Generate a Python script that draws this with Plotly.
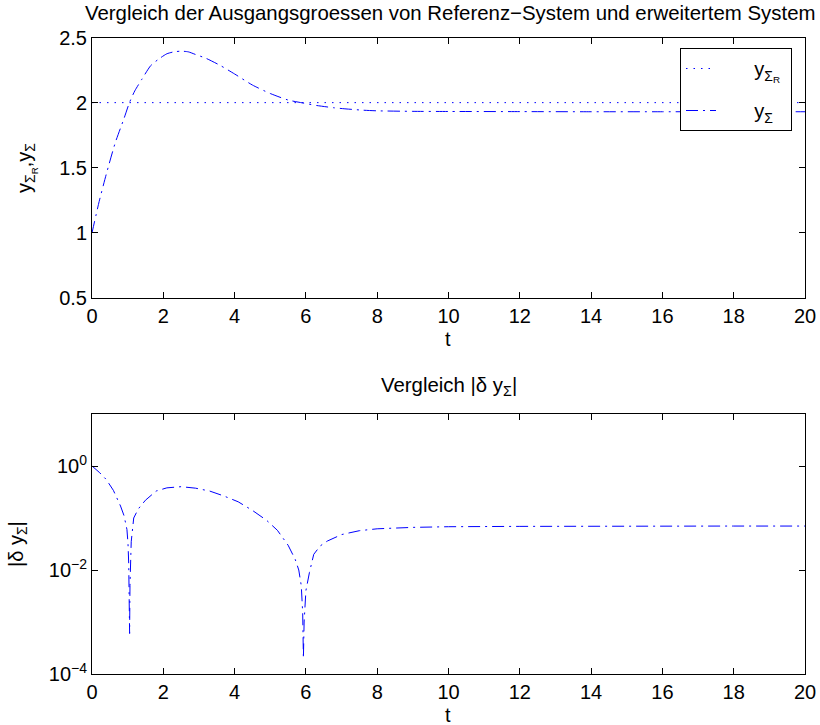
import plotly.graph_objects as go

# ---- data ----
t_ref = [0, 20]
y_ref = [2.0, 2.0]

t_sys = [0, 0.2, 0.4, 0.65, 0.9, 1.05, 1.2, 1.4, 1.65, 1.9, 2.1, 2.3, 2.5, 2.7, 2.9,
         3.2, 3.6, 4.0, 4.5, 5.0, 5.5, 5.9, 6.3, 6.8, 7.2, 7.6, 8.0, 9.0, 10, 12, 14, 16, 18, 20]
y_sys = [1.0, 1.24, 1.45, 1.69, 1.88, 2.00, 2.09, 2.18, 2.285, 2.34, 2.375, 2.39, 2.395, 2.39, 2.37,
         2.34, 2.285, 2.22, 2.135, 2.07, 2.02, 1.998, 1.978, 1.96, 1.95, 1.942, 1.937, 1.933, 1.932,
         1.931, 1.93, 1.93, 1.93, 1.93]

t_d = [0, 0.2, 0.4, 0.6, 0.8, 0.9, 0.98, 1.01, 1.03, 1.045, 1.055, 1.065, 1.08, 1.1, 1.17, 1.3,
       1.5, 1.8, 2.1, 2.5, 2.9, 3.3, 3.7, 4.1, 4.5, 4.9, 5.2, 5.5, 5.7, 5.8, 5.87, 5.91, 5.93, 5.95,
       6.0, 6.1, 6.22, 6.4, 6.6, 7.0, 7.5, 8.0, 9.0, 10, 12, 14, 16, 18, 20]
d_y = [1.0, 0.76, 0.55, 0.34, 0.17, 0.11, 0.06, 0.032, 0.013, 0.004, 0.0006, 0.005, 0.017, 0.035,
       0.1, 0.15, 0.22, 0.33, 0.38, 0.40, 0.375, 0.33, 0.265, 0.205, 0.14, 0.09, 0.058, 0.03, 0.016,
       0.01, 0.005, 0.0015, 0.0002, 0.001, 0.004, 0.009, 0.02, 0.029, 0.036, 0.048, 0.057, 0.062,
       0.066, 0.068, 0.069, 0.07, 0.07, 0.07, 0.07]

x_ticks = list(range(0, 21, 2))
y1_ticks = [0.5, 1, 1.5, 2, 2.5]
y1_ticktext = ["0.5", "1", "1.5", "2", "2.5"]
y2_ticks = [1e-4, 1e-2, 1]
y2_ticktext = ["10<sup>−4</sup>", "10<sup>−2</sup>", "10<sup>0</sup>"]

FONT = "Liberation Sans, Arial, Helvetica, sans-serif"
FS = 20
BLUE = "#0000ff"
W, H = 820, 725
PAD = "\u00a0" * 6

fig = go.Figure()
fig.add_trace(go.Scatter(x=t_ref, y=y_ref, mode="lines", name=PAD + "y<sub>Σ<sub>R</sub></sub>\u00a0",
                         line=dict(color=BLUE, width=1, dash="1.5px,6px"),
                         xaxis="x", yaxis="y", legendgroup="a"))
fig.add_trace(go.Scatter(x=t_sys, y=y_sys, mode="lines", name=PAD + "y<sub>Σ</sub>",
                         line=dict(color=BLUE, width=1, dash="12px,5px,2px,5px", shape="spline", smoothing=0.6),
                         xaxis="x", yaxis="y", legendgroup="b"))
fig.add_trace(go.Scatter(x=t_d, y=d_y, mode="lines", showlegend=False,
                         line=dict(color=BLUE, width=1, dash="12px,5px,2px,5px"),
                         xaxis="x2", yaxis="y2"))

xd = [92 / W, 805 / W]
axis_common = dict(showline=True, linecolor="black", linewidth=1, mirror="ticks",
                   ticks="inside", ticklen=6, tickcolor="black", showgrid=False, zeroline=False,
                   automargin=False,
                   tickfont=dict(family=FONT, size=FS, color="black"))

fig.update_layout(
    width=W, height=H, margin=dict(l=0, r=0, t=0, b=0, autoexpand=False),
    paper_bgcolor="white", plot_bgcolor="white",
    font=dict(family=FONT, size=FS, color="black"),
    xaxis=dict(domain=xd, range=[0, 20], tickvals=x_ticks, anchor="y", **axis_common),
    yaxis=dict(domain=[(H - 298) / H, (H - 37.5) / H], range=[0.5, 2.5], tickvals=y1_ticks,
               ticktext=y1_ticktext, anchor="x", **axis_common),
    xaxis2=dict(domain=xd, range=[0, 20], tickvals=x_ticks, anchor="y2", **axis_common),
    yaxis2=dict(domain=[(H - 674) / H, (H - 414) / H], type="log", range=[-4, 1],
                tickvals=y2_ticks, ticktext=y2_ticktext, anchor="x2", **axis_common),
    legend=dict(x=680 / W, y=(H - 48) / H, xanchor="left", yanchor="top",
                bgcolor="white", bordercolor="black", borderwidth=1,
                font=dict(family=FONT, size=FS), tracegroupgap=13),
    annotations=[
        dict(text="Vergleich der Ausgangsgroessen von Referenz−System und erweitertem System",
             x=450 / W, y=(H - 13) / H, xref="paper", yref="paper", showarrow=False,
             font=dict(size=20.4), xanchor="center", yanchor="middle"),
        dict(text="Vergleich |δ y<sub>Σ</sub>|", x=449 / W, y=(H - 386) / H, xref="paper",
             yref="paper", showarrow=False, font=dict(size=20.4), xanchor="center", yanchor="middle"),
        dict(text="t", x=448 / W, y=(H - 339) / H, xref="paper", yref="paper", showarrow=False,
             xanchor="center", yanchor="middle"),
        dict(text="t", x=448 / W, y=(H - 715) / H, xref="paper", yref="paper", showarrow=False,
             xanchor="center", yanchor="middle"),
        dict(text="y<sub>Σ<sub>R</sub></sub>,y<sub>Σ</sub>", x=26 / W, y=(H - 168) / H,
             xref="paper", yref="paper", showarrow=False, textangle=-90,
             xanchor="center", yanchor="middle"),
        dict(text="|δ y<sub>Σ</sub>|", x=17 / W, y=(H - 544) / H,
             xref="paper", yref="paper", showarrow=False, textangle=-90,
             xanchor="center", yanchor="middle"),
    ],
)

fig.write_html("out.html", post_script="document.body.style.margin='0';document.body.style.overflow='hidden';")
